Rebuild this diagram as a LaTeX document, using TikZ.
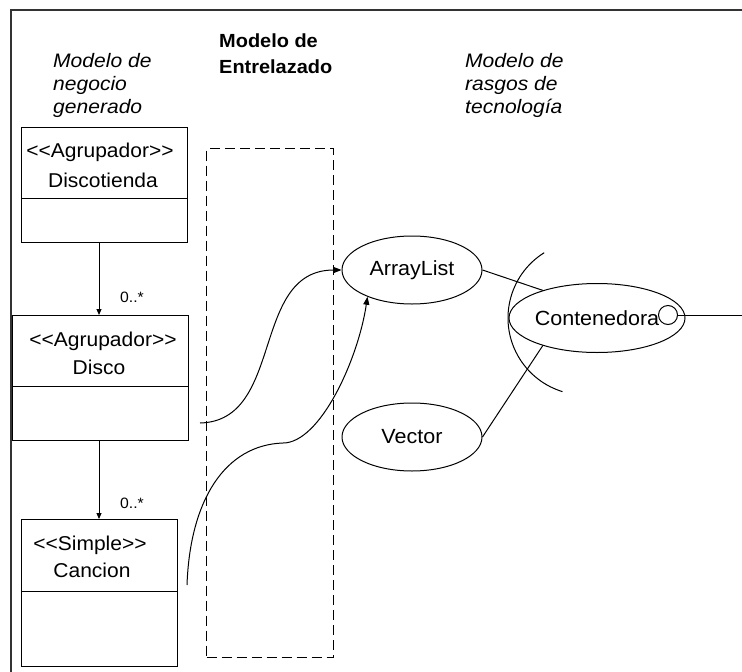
\documentclass[tikz,border=0pt]{standalone}
\usepackage{fontspec}
\setmainfont{Liberation Sans}[FakeStretch=1.05]
\newfontfamily\titlefont{Liberation Sans}[FakeStretch=1.08]
\usetikzlibrary{arrows.meta,shapes.geometric}
% stereotype brackets kept as two plain characters
\newcommand{\stl}{<\kern0pt<}
\newcommand{\str}{>\kern0pt>}
\begin{document}
\begin{tikzpicture}[x=1pt,y=-1pt,
  line/.style={line width=1pt, draw=black},
  frame/.style={line width=1.6pt, draw=black!80},
  umlbox/.style={draw=black, line width=1.1pt, rectangle, inner sep=0pt, anchor=north west},
  boxtxt/.style={font=\fontsize{20}{24}\selectfont, inner sep=0pt, anchor=base},
  ititle/.style={font=\titlefont\fontsize{19.5}{23}\itshape\selectfont, inner sep=0pt, anchor=base west},
  btitle/.style={font=\fontsize{19}{23}\bfseries\selectfont, inner sep=0pt, anchor=base west},
  mult/.style={font=\fontsize{15}{18}\selectfont, inner sep=0pt, anchor=base},
  feat/.style={draw=black, line width=1pt, ellipse, minimum width=140pt, minimum height=68pt,
    inner sep=0pt, font=\fontsize{20.5}{24}\selectfont},
  assoc/.style={line width=1pt, -{Triangle[length=6pt,width=5pt]}},
  link/.style={line width=1pt, -{Triangle[length=8pt,width=6pt]}}
]
\useasboundingbox (0,0) rectangle (742,672);
% outer frame (top and left borders)
\draw[frame] (742,10) -- (11,10) -- (11,672);

% column titles
\node[ititle] (t1a) at (53,67) {Modelo de};
\node[ititle] (t1b) at (53,90) {negocio};
\node[ititle] (t1c) at (53,113) {generado};
\node[btitle] (t2a) at (219,47) {Modelo de};
\node[btitle] (t2b) at (219,73) {Entrelazado};
\node[ititle] (t3a) at (465,67) {Modelo de};
\node[ititle] (t3b) at (465,90) {rasgos de};
\node[ititle] (t3c) at (465,113) {tecnología};

% business model classes
\node[umlbox, minimum width=166pt, minimum height=115pt] (dt) at (21,127) {};
\draw[line] (dt.west |- 0,198) -- (dt.east |- 0,198);
\node[boxtxt] (dt1) at (100,157) {\stl Agrupador\str};
\node[boxtxt] (dt2) at (103,187) {Discotienda};

\node[umlbox, minimum width=176pt, minimum height=125pt] (di) at (12,315) {};
\draw[line] (di.west |- 0,386) -- (di.east |- 0,386);
\node[boxtxt] (di1) at (103,346) {\stl Agrupador\str};
\node[boxtxt] (di2) at (99,374) {Disco};

\node[umlbox, minimum width=156pt, minimum height=147pt] (ca) at (21,519) {};
\draw[line] (ca.west |- 0,591) -- (ca.east |- 0,591);
\node[boxtxt] (ca1) at (90,550) {\stl Simple\str};
\node[boxtxt] (ca2) at (92,577) {Cancion};

\draw[assoc] (dt.south -| 99,0) -- (di.north -| 99,0);
\node[mult] (m1) at (132,302) {0..*};
\draw[assoc] (di.south -| 99,0) -- (ca.north -| 99,0);
\node[mult] (m2) at (132,508) {0..*};

% weaving model area
\node[draw=black, line width=1pt, dash pattern=on 10pt off 5pt, rectangle, inner sep=0pt,
  minimum width=127pt, minimum height=509pt, anchor=north west] (ent) at (206,148) {};

% technology feature model
\node[feat] (al) at (412,270) {ArrayList};
\node[feat] (ve) at (412,437) {Vector};
\node[feat, minimum width=136pt, minimum height=69pt] (co) at (597,318) {Contenedora};
\node[circle, draw=black, line width=1pt, fill=white, minimum size=19pt, inner sep=0pt] (sock) at (668,315) {};
\coordinate (out) at (742,315);
\draw[line] (sock.east) -- (out);
\draw[line] (al.east) -- (co.153);
\draw[line] (ve.east) -- (co.207);
\draw[line] (585,318) ++(238:77) arc[start angle=238, end angle=107, radius=77];

% weaving links
\coordinate (s1) at (200,423);
\coordinate (s2) at (187,585);
\coordinate (k2) at (283,443);
\draw[link] (s1) .. controls (285,421) and (250,270) .. (al.west);
\draw[link] (s2) .. controls (190,500) and (225,445) .. (k2)
  .. controls (320,443) and (358,360) .. (al.211);
\end{tikzpicture}
\end{document}
